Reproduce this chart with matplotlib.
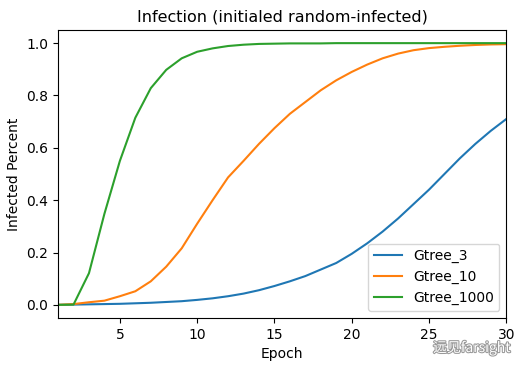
import matplotlib
matplotlib.use("Agg")
import matplotlib.pyplot as plt
import matplotlib.patheffects as pe

# * - - - Data
epochs = list(range(1, 31))
gtree_3 = [0.0, 0.001, 0.002, 0.003, 0.004, 0.006, 0.008, 0.011, 0.014, 0.019,
           0.025, 0.033, 0.043, 0.056, 0.072, 0.09, 0.11, 0.135, 0.16, 0.195,
           0.235, 0.28, 0.33, 0.385, 0.44, 0.5, 0.56, 0.615, 0.665, 0.71]
gtree_10 = [0.0, 0.003, 0.01, 0.016, 0.033, 0.052, 0.09, 0.146, 0.216, 0.31,
            0.40, 0.487, 0.55, 0.615, 0.675, 0.73, 0.775, 0.82, 0.858, 0.89,
            0.918, 0.942, 0.96, 0.973, 0.981, 0.986, 0.99, 0.993, 0.995, 0.996]
gtree_1000 = [0.0, 0.001, 0.121, 0.348, 0.55, 0.715, 0.828, 0.898, 0.942, 0.967,
              0.98, 0.989, 0.994, 0.997, 0.998, 0.999, 0.999, 0.999, 1.0, 1.0,
              1.0, 1.0, 1.0, 1.0, 1.0, 1.0, 1.0, 1.0, 1.0, 1.0]
series_labels = ["Gtree_3", "Gtree_10", "Gtree_1000"]

# * - - - Figure
fig = plt.figure(figsize=(5.23, 3.71), dpi=100)
ax = fig.add_axes([0.111, 0.143, 0.857, 0.776])

for values, label in zip([gtree_3, gtree_10, gtree_1000], series_labels):
    ax.plot(epochs, values, label=label)

ax.set_xlim(1, 30)
ax.set_title("Infection (initialed random-infected)", fontsize=11.5)
ax.set_xlabel("Epoch")
ax.set_ylabel("Infected Percent")
ax.legend(loc="lower right")

# * - - - Watermark
fig.text(0.902, 0.062, "远见farsight", fontsize=10, color="white",
         family=["Noto Sans CJK SC", "DejaVu Sans"], ha="center", va="center",
         path_effects=[pe.withStroke(linewidth=1.5, foreground="#999999")])

fig.savefig("out.png", dpi=100)
